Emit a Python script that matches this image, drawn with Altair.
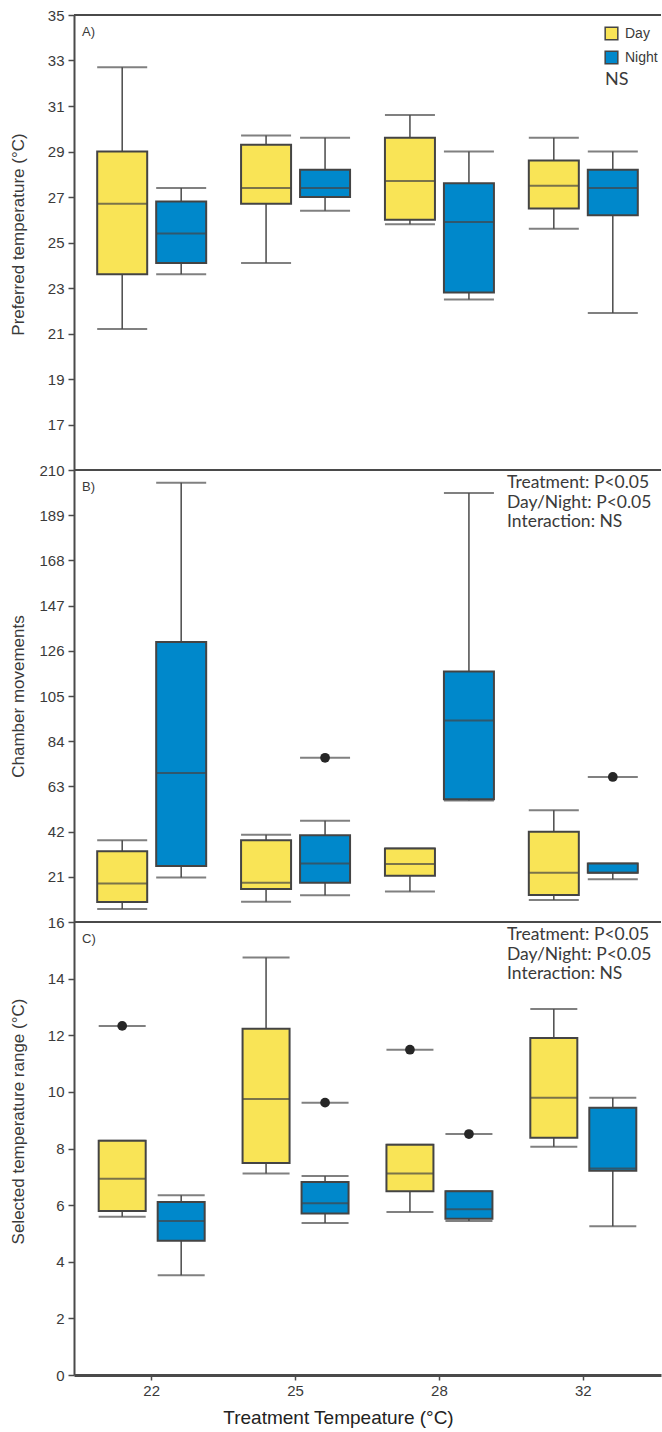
import altair as alt
import pandas as pd

temps = ["22", "25", "28", "32"]
periods = ["Day", "Night"]
YELLOW = "#F9E456"
BLUE = "#0088CB"
INK = "#3a3a3a"
LINE = "#4a4a4a"

# A) Preferred temperature (°C): whisker low, Q1, median, Q3, whisker high
pref_day_lo = [21.2, 24.1, 25.8, 25.6]
pref_day_q1 = [23.6, 26.7, 26.0, 26.5]
pref_day_med = [26.7, 27.4, 27.7, 27.5]
pref_day_q3 = [29.0, 29.3, 29.6, 28.6]
pref_day_hi = [32.7, 29.7, 30.6, 29.6]
pref_night_lo = [23.6, 26.4, 22.5, 21.9]
pref_night_q1 = [24.1, 27.0, 22.8, 26.2]
pref_night_med = [25.4, 27.4, 25.9, 27.4]
pref_night_q3 = [26.8, 28.2, 27.6, 28.2]
pref_night_hi = [27.4, 29.6, 29.0, 29.0]

# B) Chamber movements
move_day_lo = [6.0, 9.4, 14.2, 10.2]
move_day_q1 = [9.3, 15.3, 21.5, 12.5]
move_day_med = [17.9, 18.2, 26.9, 22.9]
move_day_q3 = [32.9, 38.0, 34.2, 41.9]
move_day_hi = [38.0, 40.5, 34.2, 51.9]
move_night_lo = [20.7, 12.4, 56.5, 19.9]
move_night_q1 = [26.0, 18.2, 57.0, 22.9]
move_night_med = [69.2, 27.2, 93.6, 22.9]
move_night_q3 = [130.1, 40.3, 116.4, 27.2]
move_night_hi = [204.1, 47.0, 199.3, 27.2]
move_out_temp = ["25", "32"]
move_out_period = ["Night", "Night"]
move_out_value = [76.3, 67.4]

# C) Selected temperature range (°C)
range_day_lo = [5.59, 7.12, 5.76, 8.06]
range_day_q1 = [5.79, 7.49, 6.49, 8.38]
range_day_med = [6.93, 9.75, 7.12, 9.79]
range_day_q3 = [8.27, 12.23, 8.13, 11.90]
range_day_hi = [8.27, 14.75, 8.13, 12.93]
range_night_lo = [3.52, 5.37, 5.44, 5.25]
range_night_q1 = [4.74, 5.70, 5.52, 7.21]
range_night_med = [5.44, 6.07, 5.85, 7.29]
range_night_q3 = [6.11, 6.82, 6.49, 9.44]
range_night_hi = [6.35, 7.03, 6.49, 9.79]
range_out_temp = ["22", "25", "28", "28"]
range_out_period = ["Day", "Night", "Day", "Night"]
range_out_value = [12.33, 9.62, 11.49, 8.51]

stats_lines = ["Treatment: P<0.05", "Day/Night: P<0.05", "Interaction: NS"]

PLOT_W = 587


def box_table(day, night):
    rows = []
    for period, cols in (("Day", day), ("Night", night)):
        lo, q1, med, q3, hi = cols
        for i, t in enumerate(temps):
            rows.append(dict(temp=t, period=period, lo=lo[i], q1=q1[i],
                             med=med[i], q3=q3[i], hi=hi[i]))
    return pd.DataFrame(rows)


def panel(stats, outliers, domain, ticks, title, height, tag, box_w,
          notes=None, legend=False, xaxis=False, title_y=None):
    if xaxis:
        x_axis = alt.Axis(title="Treatment Tempeature (°C)", labelAngle=0,
                          domainColor=LINE, domainWidth=3, tickColor=LINE,
                          tickWidth=1.5, tickSize=5, labelFont="Liberation Sans",
                          labelFontSize=15, labelColor=INK, labelPadding=3,
                          titleFont="Liberation Sans", titleFontSize=19,
                          titleFontWeight="normal", titleColor="#222",
                          titlePadding=10, titleX=264)
    else:
        x_axis = None
    x = alt.X("temp:N", sort=temps, axis=x_axis,
              scale=alt.Scale(paddingInner=0.18, paddingOuter=0.13))
    xo = alt.XOffset("period:N", sort=periods,
                     scale=alt.Scale(paddingInner=0, paddingOuter=0))
    axis_kw = dict(values=ticks, title=title, grid=False, domainColor=LINE,
                   domainWidth=2, tickColor=LINE, tickWidth=1.5, tickSize=6,
                   labelFont="Liberation Sans", labelFontSize=15, labelColor=INK,
                   labelPadding=4, labelFlush=False, labelOverlap=False,
                   titleFont="Liberation Sans", titleFontSize=17,
                   titleFontWeight="normal", titleColor=INK, titlePadding=9,
                   minExtent=38, maxExtent=38)
    if title_y is not None:
        axis_kw["titleY"] = title_y
    yscale = alt.Scale(domain=domain, nice=False, zero=False)

    def y(field):
        return alt.Y(f"{field}:Q", scale=yscale, axis=alt.Axis(**axis_kw))

    if legend:
        leg = alt.Legend(title=None, orient="none", legendX=530, legendY=11,
                         symbolType="square", symbolSize=160,
                         symbolStrokeColor="#444", symbolStrokeWidth=1.5,
                         symbolOpacity=1, labelFont="Liberation Sans",
                         labelFontSize=14, labelColor=INK, rowPadding=5,
                         labelOffset=6, padding=0)
    else:
        leg = None
    fill = alt.Fill("period:N", sort=periods,
                    scale=alt.Scale(domain=periods, range=[YELLOW, BLUE]),
                    legend=leg)

    base = alt.Chart(stats)
    whisker = base.mark_rule(color=LINE, strokeWidth=1.5).encode(
        x=x, xOffset=xo, y=y("lo"), y2="hi:Q")
    caps_lo = base.mark_tick(color=LINE, size=box_w, thickness=2).encode(
        x=x, xOffset=xo, y=y("lo"))
    caps_hi = base.mark_tick(color=LINE, size=box_w, thickness=2).encode(
        x=x, xOffset=xo, y=y("hi"))
    box = base.mark_bar(width=box_w, stroke="#444", strokeWidth=2,
                        opacity=1).encode(x=x, xOffset=xo, y=y("q1"),
                                          y2="q3:Q", fill=fill)
    median = base.mark_tick(color="#444", size=box_w, thickness=2).encode(
        x=x, xOffset=xo, y=y("med"))
    layers = [whisker, caps_lo, caps_hi, box, median]

    if outliers is not None:
        ob = alt.Chart(outliers)
        layers.append(ob.mark_tick(color=LINE, size=box_w, thickness=2).encode(
            x=x, xOffset=xo, y=y("value")))
        layers.append(ob.mark_circle(color="#262626", size=95, opacity=1).encode(
            x=x, xOffset=xo, y=y("value")))

    frame = alt.Chart(pd.DataFrame({"k": [0]})).mark_rule(
        color=LINE, strokeWidth=2).encode(
        x=alt.value(0), x2=alt.value(PLOT_W), y=alt.value(0))
    label = alt.Chart(pd.DataFrame({"t": [tag]})).mark_text(
        align="left", baseline="alphabetic", font="Liberation Sans",
        fontSize=13, color=INK).encode(
        x=alt.value(8), y=alt.value(21), text="t:N")
    layers += [frame, label]

    if notes is not None:
        note = alt.Chart(pd.DataFrame({"t": ["\n".join(notes)]})).mark_text(
            align="left", baseline="alphabetic", font="Lato", fontSize=17.5,
            color=INK, lineBreak="\n", lineHeight=19.5).encode(
            x=alt.value(433), y=alt.value(18), text="t:N")
        layers.append(note)
    if legend:
        ns = alt.Chart(pd.DataFrame({"t": ["NS"]})).mark_text(
            align="left", baseline="alphabetic", font="Lato", fontSize=18,
            color=INK).encode(x=alt.value(531), y=alt.value(70), text="t:N")
        layers.append(ns)

    return alt.layer(*layers).properties(width=PLOT_W, height=height)


pref = box_table(
    (pref_day_lo, pref_day_q1, pref_day_med, pref_day_q3, pref_day_hi),
    (pref_night_lo, pref_night_q1, pref_night_med, pref_night_q3, pref_night_hi))
move = box_table(
    (move_day_lo, move_day_q1, move_day_med, move_day_q3, move_day_hi),
    (move_night_lo, move_night_q1, move_night_med, move_night_q3, move_night_hi))
rng = box_table(
    (range_day_lo, range_day_q1, range_day_med, range_day_q3, range_day_hi),
    (range_night_lo, range_night_q1, range_night_med, range_night_q3, range_night_hi))
move_out = pd.DataFrame({"temp": move_out_temp, "period": move_out_period,
                         "value": move_out_value})
range_out = pd.DataFrame({"temp": range_out_temp, "period": range_out_period,
                          "value": range_out_value})

panel_a = panel(pref, None, [15, 35], list(range(17, 36, 2)),
                "Preferred temperature (°C)", 455, "A)", 50,
                legend=True, title_y=219)
panel_b = panel(move, move_out, [0, 210], list(range(21, 211, 21)),
                "Chamber movements", 452, "B)", 50, notes=stats_lines)
panel_c = panel(rng, range_out, [0, 16], list(range(0, 17, 2)),
                "Selected temperature range (°C)", 453, "C)", 47,
                notes=stats_lines, xaxis=True, title_y=199)

chart = alt.vconcat(panel_a, panel_b, panel_c, spacing=0,
                    bounds="flush").resolve_legend(
    fill="independent").properties(
    padding={"left": 9, "top": 8, "right": 0, "bottom": 2},
    background="white").configure_view(stroke=None)

chart.save("out.html", embed_options={"renderer": "svg", "actions": False})
